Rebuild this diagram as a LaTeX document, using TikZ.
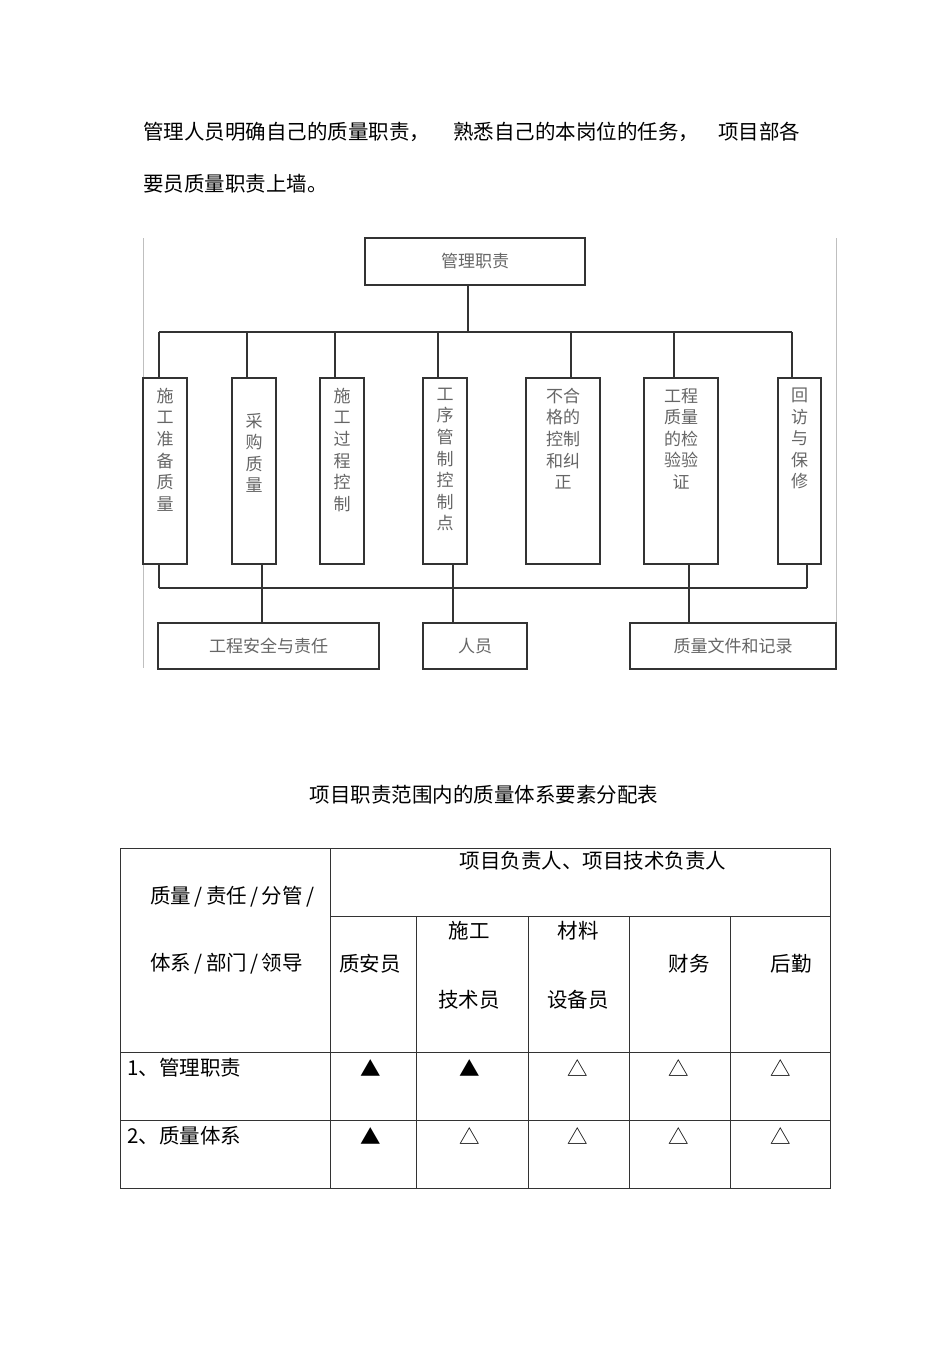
\documentclass[tikz,border=0pt]{standalone}
\usepackage{fontspec}
\setmainfont{Noto Sans CJK SC}
\usetikzlibrary{positioning}

% vertical text inside a tall box
\newcommand\colbox[3]{\parbox[c][186pt][t]{#1pt}{\centering\vspace*{#2pt}#3}}

\begin{document}
\begin{tikzpicture}[x=1pt, y=-1pt,
    box/.style={draw=black!80, line width=1.1pt, inner sep=0pt, text=black!60,
                font=\fontsize{17}{21.6}\selectfont},
    link/.style={draw=black!80, line width=1.1pt},
    frame/.style={draw=black!25, line width=0.8pt},
    grid/.style={draw=black!80, line width=1pt},
    txt/.style={font=\fontsize{20.5}{24}\selectfont, inner sep=0pt}]

    \useasboundingbox[fill=white] (0,0) rectangle (950,1345);

    % paragraph
    \node[txt, anchor=west] (p1) at (143,132) {管理人员明确自己的质量职责，};
    \node[txt, anchor=west] (p2) at (453,132) {熟悉自己的本岗位的任务，};
    \node[txt, anchor=west] (p3) at (718,132) {项目部各};
    \node[txt, anchor=west] (p4) at (143,184) {要员质量职责上墙。};

    % chart
    \draw[frame] (143,238) -- (143,668);
    \draw[frame] (836,238) -- (836,668);
    \node[box, minimum width=220pt, minimum height=47pt] (duty) at (475,261.5) {管理职责};

    \node[box] (c1) at (165,471)   {\colbox{44}{10}{施\\工\\准\\备\\质\\量}};
    \node[box] (c2) at (254,471)   {\colbox{44}{35}{采\\购\\质\\量}};
    \node[box] (c3) at (342,471)   {\colbox{44}{10}{施\\工\\过\\程\\控\\制}};
    \node[box] (c4) at (445,471)   {\colbox{44}{10}{工\\序\\管\\制\\控\\制\\点}};
    \node[box] (c5) at (563,471)   {\colbox{74}{10}{不合\\格的\\控制\\和纠\\正}};
    \node[box] (c6) at (681,471)   {\colbox{74}{10}{工程\\质量\\的检\\验验\\证}};
    \node[box] (c7) at (799.5,471) {\colbox{43}{10}{回\\访\\与\\保\\修}};

    \node[box, minimum width=221pt, minimum height=46pt] (s1) at (268.5,646) {工程安全与责任};
    \node[box, minimum width=104pt, minimum height=46pt] (s2) at (475,646)   {人员};
    \node[box, minimum width=206pt, minimum height=46pt] (s3) at (733,646)   {质量文件和记录};

    \coordinate (topL) at (159,332);
    \coordinate (topM) at (468,332);
    \coordinate (topR) at (792,332);
    \coordinate (botL) at (159,588);
    \coordinate (botR) at (807,588);
    \draw[link] (topL) -- (topR);
    \draw[link] (botL) -- (botR);
    \draw[link] (topM |- duty.south) -- (topM);
    \foreach \n/\dx in {c1/-6, c2/-7, c3/-7, c4/-7, c5/8, c6/-7, c7/-7.5}
        \draw[link] ([xshift=\dx pt]\n.north) -- ([xshift=\dx pt]\n.north |- topL);
    \draw[link] ([xshift=-6pt]c1.south) -- ([xshift=-6pt]c1.south |- botL);
    \draw[link] ([xshift=7.5pt]c7.south) -- ([xshift=7.5pt]c7.south |- botL);
    \draw[link] ([xshift=8pt]c2.south) -- ([xshift=8pt]c2.south |- s1.north);
    \draw[link] ([xshift=8pt]c4.south) -- ([xshift=8pt]c4.south |- s2.north);
    \draw[link] ([xshift=8pt]c6.south) -- ([xshift=8pt]c6.south |- s3.north);

    % table
    \node[txt] (title) at (484,795) {项目职责范围内的质量体系要素分配表};
    \draw[grid] (120,848) rectangle (830,1188);
    \draw[grid] (330,848) -- (330,1188);
    \draw[grid] (330,916) -- (830,916);
    \foreach \x in {416,528,629,730}
        \draw[grid] (\x,916) -- (\x,1188);
    \draw[grid] (120,1052) -- (830,1052);
    \draw[grid] (120,1120) -- (830,1120);

    \node[txt] (lead) at (593,861) {项目负责人、项目技术负责人};
    \node[txt, anchor=west] (h1) at (150,897) {质量\,/\,责任\,/\,分管\,/};
    \node[txt, anchor=west] (h2) at (150,964) {体系\,/\,部门\,/\,领导};
    \node[txt] (q1) at (370,964) {质安员};
    \node[txt] (q2) at (469,931) {施工};
    \node[txt] (q3) at (469,1000) {技术员};
    \node[txt] (q4) at (578,931) {材料};
    \node[txt] (q5) at (578,1000) {设备员};
    \node[txt] (q6) at (689,964) {财务};
    \node[txt] (q7) at (791,964) {后勤};
    \node[txt, anchor=west] (r1) at (127,1068) {1、管理职责};
    \node[txt, anchor=west] (r2) at (127,1136) {2、质量体系};
    \foreach \x/\m [count=\i] in {371/▲, 470/▲, 578/△, 679/△, 781/△}
        \node[txt] (ma\i) at (\x,1068) {\m};
    \foreach \x/\m [count=\i] in {371/▲, 470/△, 578/△, 679/△, 781/△}
        \node[txt] (mb\i) at (\x,1136) {\m};
\end{tikzpicture}
\end{document}
